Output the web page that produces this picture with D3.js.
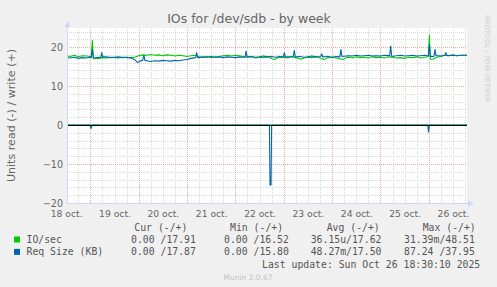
<!DOCTYPE html>
<html>
<head>
<meta charset="utf-8">
<script src="https://cdn.jsdelivr.net/npm/d3@7"></script>
<style>
  body { margin: 0; background: #f0f0f0; }
  svg { display: block; }
</style>
</head>
<body>
<svg id="chart" width="497" height="287"></svg>
<script>
// Time is counted in hours from 18 oct 2025 00:00.
const dayLabels = [18, 19, 20, 21, 22, 23, 24, 25, 26];
const yTicks = [-20, -10, 0, 10, 20];

// IO/sec, write side (+)
const ioWrite = [[12,17.8],[14,17.6],[16,17.9],[18,17.5],[20,17.8],[22,17.7],[24,17.6],[24.5,17.7],[25,21.7],[25.5,17.0],
  [26,17.0],[28,17.1],[30,17.3],[32,17.2],[34,17.4],[36,17.3],[38,17.2],[40,17.4],[42,17.3],[44,17.3],[46,17.4],
  [48,17.8],[50,18.0],[52,17.9],[54,18.1],[56,17.9],[58,18.0],[60,17.8],[62,18.0],[64,17.9],[66,17.7],[68,17.9],
  [70,17.8],[72,17.6],[74,17.8],[76,17.9],[78,17.5],[80,17.4],[82,17.6],[84,17.3],[86,17.5],[88,17.6],[90,17.8],
  [92,17.9],[94,17.7],[96,17.9],[98,17.8],[100,17.6],[102,17.4],[104,17.5],[106,17.2],[108,17.4],[110,17.3],
  [112,17.5],[114,17.1],[115.5,16.8],[117,17.3],[120,17.4],[122,17.2],[124,17.5],[126,17.3],[128.5,16.9],[130,17.2],
  [132,17.4],[134,17.3],[136,17.5],[138,17.2],[140,16.8],[142,17.3],[144,17.4],[146,17.2],[148,17.0],[149.5,16.8],
  [151,17.3],[152,17.4],[154,17.2],[156,17.5],[158,17.3],[160,17.4],[162,17.2],[164,17.5],[166,17.3],[168,17.4],
  [170,17.2],[172,17.5],[174,17.4],[176,17.2],[178,17.3],[180,17.1],[182,17.4],[184,17.3],[186,17.5],[188,17.2],
  [190,17.4],[191.8,17.6],[192.3,23.0],[192.8,16.9],[194,16.9],[196,17.4],[198,17.6],[200,17.9],[202,17.8],
  [204,18.0],[206,17.8],[208,17.9],[211,17.9]];

// IO/sec, read side (-)
const ioRead = [[12,0],[211,0]];

// Req Size (KB), write side (+)
const reqWrite = [[12,17.3],[14,17.2],[16,17.4],[18,17.1],[20,17.3],[22,17.2],[24,17.4],[24.5,17.3],[25,19.5],[25.5,17.3],
  [26,17.2],[28,17.4],[29.2,17.3],[29.65,18.6],[30.1,17.5],[32,17.5],[34,17.3],[36,17.4],[38,17.5],[40,17.3],
  [42,17.4],[44,17.2],[46,16.8],[47.5,16.0],[48.5,16.4],[50,16.6],[50.6,17.9],[51.1,16.6],[52,16.5],[54,16.3],
  [56,16.5],[58,16.4],[60,16.6],[62,16.5],[64,16.4],[66,16.6],[68,16.5],[70,16.7],[72,16.8],[74,17.1],[76.3,17.3],
  [76.8,18.6],[77.3,17.3],[78,17.3],[80,17.5],[82,17.4],[84,17.6],[86,17.4],[88,17.5],[90,17.3],[92,17.5],[94,17.4],
  [96,17.3],[98,17.5],[100.8,17.4],[101.3,19.0],[101.8,17.5],[104,17.6],[106,17.4],[108,17.5],[110,17.7],[112,17.5],
  [114,17.6],[116,17.4],[118,17.6],[119.8,17.5],[120.3,18.6],[120.8,17.5],[122,17.5],[124.75,17.6],[125.25,19.2],
  [125.75,17.5],[128,17.6],[130,17.4],[132,17.5],[134,17.7],[136,17.5],[138.35,17.6],[138.85,18.3],[139.35,17.5],
  [142,17.6],[144,17.4],[146,17.6],[147.9,17.5],[148.4,19.4],[148.9,17.6],[152,17.8],[154,17.7],[156,17.9],
  [158,17.7],[160,17.8],[162,17.9],[164,17.7],[166,17.8],[168,17.7],[170,17.9],[172.6,17.8],[173.1,20.3],
  [173.6,17.6],[176,17.8],[178,17.9],[180,17.7],[182,17.8],[184,17.9],[186,17.7],[188,17.8],[190,17.9],
  [191.8,17.7],[192.3,20.7],[192.8,17.6],[194.6,17.6],[195.1,19.4],[195.6,17.8],[198,17.7],[200.05,17.9],
  [200.55,18.6],[201.05,17.8],[204,17.9],[206,17.8],[208,17.9],[211,17.9]];

// Req Size (KB), read side (-)
const reqRead = [[12,0],[23.9,0],[24.3,-0.9],[24.7,-0.4],[25.1,0],[112.9,0],[113.2,-15.4],[113.7,-15.4],[114.0,0],
  [191.5,0],[191.9,-1.8],[192.3,0],[211,0]];

// Legend table
const legendNames = ["IO/sec", "Req Size (KB)"];
const legendColors = ["#00cc00", "#0066b3"];
const legendHeaders = ["Cur (-/+)", "Min (-/+)", "Avg (-/+)", "Max (-/+)"];
const curValues = ["0.00 /17.91", "0.00 /17.87"];
const minValues = ["0.00 /16.52", "0.00 /15.80"];
const avgValues = ["36.15u/17.62", "48.27m/17.50"];
const maxValues = ["31.39m/48.51", "87.24 /37.95"];

const base = new Date(2025, 9, 18, 0, 0, 0);
const toDate = h => new Date(base.getTime() + h * 3600e3);

const margin = { left: 67, top: 28 };
const plotWidth = 400;
const plotHeight = 175;

const svg = d3.select("#chart");
const fontSans = "'DejaVu Sans', sans-serif";
const fontMono = "'DejaVu Sans Mono', monospace";

// Scales
const x = d3.scaleTime()
  .domain([toDate(12.42), toDate(210.98)])
  .range([margin.left, margin.left + plotWidth]);
const y = d3.scaleLinear()
  .domain([-20, 24.9])
  .range([margin.top + plotHeight, margin.top]);

// White canvas
svg.append("rect")
  .attr("x", margin.left).attr("y", margin.top)
  .attr("width", plotWidth).attr("height", plotHeight)
  .attr("fill", "#ffffff");

// Grid lines: minor every 2 units / 6 hours, major every 10 units / midnight
const grid = svg.append("g").attr("shape-rendering", "crispEdges");
const minorY = d3.range(-18, 25, 2).filter(v => v % 10 !== 0);
const majorY = [-10, 10, 20];
const minorX = d3.range(18, 211, 6).filter(h => h % 24 !== 0);
const majorX = d3.range(24, 211, 24);
const minorColor = "#dadada";
const majorColor = "#ebaaaa";

grid.selectAll(".hmin").data(minorY).join("line")
  .attr("x1", margin.left).attr("x2", margin.left + plotWidth)
  .attr("y1", d => Math.round(y(d)) + 0.5).attr("y2", d => Math.round(y(d)) + 0.5)
  .attr("stroke", minorColor).attr("stroke-dasharray", "1,1");
grid.selectAll(".vmin").data(minorX).join("line")
  .attr("x1", d => Math.round(x(toDate(d))) + 0.5).attr("x2", d => Math.round(x(toDate(d))) + 0.5)
  .attr("y1", margin.top).attr("y2", margin.top + plotHeight)
  .attr("stroke", minorColor).attr("stroke-dasharray", "1,1");
grid.selectAll(".hmaj").data(majorY).join("line")
  .attr("x1", margin.left).attr("x2", margin.left + plotWidth)
  .attr("y1", d => Math.round(y(d)) + 0.5).attr("y2", d => Math.round(y(d)) + 0.5)
  .attr("stroke", majorColor).attr("stroke-dasharray", "1,1");
grid.selectAll(".vmaj").data(majorX).join("line")
  .attr("x1", d => Math.round(x(toDate(d))) + 0.5).attr("x2", d => Math.round(x(toDate(d))) + 0.5)
  .attr("y1", margin.top).attr("y2", margin.top + plotHeight)
  .attr("stroke", majorColor).attr("stroke-dasharray", "1,1");

// Data lines
svg.append("clipPath").attr("id", "clip")
  .append("rect")
  .attr("x", margin.left).attr("y", margin.top)
  .attr("width", plotWidth).attr("height", plotHeight);

const line = d3.line()
  .x(d => x(toDate(d[0])))
  .y(d => y(d[1]));

const lines = svg.append("g").attr("clip-path", "url(#clip)");
const series = [
  { data: ioRead, color: legendColors[0] },
  { data: ioWrite, color: legendColors[0] },
  { data: reqRead, color: legendColors[1] },
  { data: reqWrite, color: legendColors[1] }
];
lines.selectAll("path").data(series).join("path")
  .attr("d", d => line(d.data))
  .attr("fill", "none")
  .attr("stroke", d => d.color)
  .attr("stroke-width", 1.1)
  .attr("stroke-linejoin", "round");

// Zero line
svg.append("line")
  .attr("x1", margin.left).attr("x2", margin.left + plotWidth)
  .attr("y1", Math.round(y(0)) + 0.5).attr("y2", Math.round(y(0)) + 0.5)
  .attr("stroke", "#000000").attr("stroke-width", 1)
  .attr("shape-rendering", "crispEdges");

// Axis lines with arrows
const axisColor = "#cfd6f8";
const x0 = margin.left + 0.5;
const yB = margin.top + plotHeight + 0.5;
svg.append("line").attr("x1", x0).attr("x2", x0).attr("y1", yB).attr("y2", 24)
  .attr("stroke", axisColor).attr("shape-rendering", "crispEdges");
svg.append("path").attr("d", `M${x0 - 3},27 L${x0},21 L${x0 + 3},27 Z`).attr("fill", axisColor);
svg.append("line").attr("x1", x0).attr("x2", 470).attr("y1", yB).attr("y2", yB)
  .attr("stroke", axisColor).attr("shape-rendering", "crispEdges");
svg.append("path").attr("d", `M468,${yB - 3} L474,${yB} L468,${yB + 3} Z`).attr("fill", axisColor);

// Axis labels through d3 axes
const xAxis = d3.axisBottom(x)
  .tickValues(dayLabels.map(d => toDate((d - 18) * 24 + 12)))
  .tickFormat(d => `${d.getDate()} oct.`)
  .tickSize(0).tickPadding(0);
const gx = svg.append("g").attr("transform", `translate(0,${margin.top + plotHeight})`).call(xAxis);
gx.select(".domain").remove();
gx.selectAll("text")
  .attr("y", 13.5).attr("dy", null)
  .attr("fill", "#666").attr("font-family", fontSans).attr("font-size", "9.2px");

const yAxis = d3.axisLeft(y).tickValues(yTicks).tickSize(0).tickPadding(0);
const gy = svg.append("g").attr("transform", `translate(${margin.left - 4},0)`).call(yAxis);
gy.select(".domain").remove();
gy.selectAll("text")
  .attr("dy", "0.33em")
  .attr("fill", "#666").attr("font-family", fontSans).attr("font-size", "9.6px");

// Title
svg.append("text")
  .attr("x", 249).attr("y", 22.6)
  .attr("text-anchor", "middle")
  .attr("fill", "#666").attr("font-family", fontSans).attr("font-size", "12.5px")
  .text("IOs for /dev/sdb - by week");

// Vertical unit label
svg.append("text")
  .attr("transform", `translate(15,${margin.top + plotHeight / 2}) rotate(-90)`)
  .attr("text-anchor", "middle")
  .attr("fill", "#666").attr("font-family", fontSans).attr("font-size", "11.1px")
  .text("Units read (-) / write (+)");

// Watermark on the right
svg.append("text")
  .attr("transform", "translate(485,15) rotate(90)")
  .attr("fill", "#cccccc").attr("font-family", fontSans).attr("font-size", "6.8px")
  .text("RRDTOOL / TOBI OETIKER");

// Legend
const legend = svg.append("g")
  .attr("font-family", fontMono).attr("font-size", "9.8px").attr("fill", "#555")
  .attr("xml:space", "preserve");
const colX = [134.3, 230, 326.7, 422.7];
const valX = [131, 224, 310.7, 404];
legend.selectAll(".hdr").data(legendHeaders).join("text")
  .attr("x", (d, i) => colX[i]).attr("y", 230.8)
  .text(d => d);

const rowY = [243, 255.4];
legendNames.forEach((name, i) => {
  legend.append("rect")
    .attr("x", 14).attr("y", rowY[i] - 6.5).attr("width", 6).attr("height", 6)
    .attr("fill", legendColors[i]);
  legend.append("text").attr("x", 26.5).attr("y", rowY[i]).text(name);
  [curValues, minValues, avgValues, maxValues].forEach((vals, j) => {
    legend.append("text").attr("x", valX[j]).attr("y", rowY[i]).text(vals[i]);
  });
});
legend.append("text").attr("x", 262).attr("y", 267.8)
  .text("Last update: Sun Oct 26 18:30:10 2025");

svg.append("text")
  .attr("x", 248).attr("y", 279.5)
  .attr("text-anchor", "middle")
  .attr("fill", "#c0c0c0").attr("font-family", fontSans).attr("font-size", "7.5px")
  .text("Munin 2.0.67");
</script>
</body>
</html>
